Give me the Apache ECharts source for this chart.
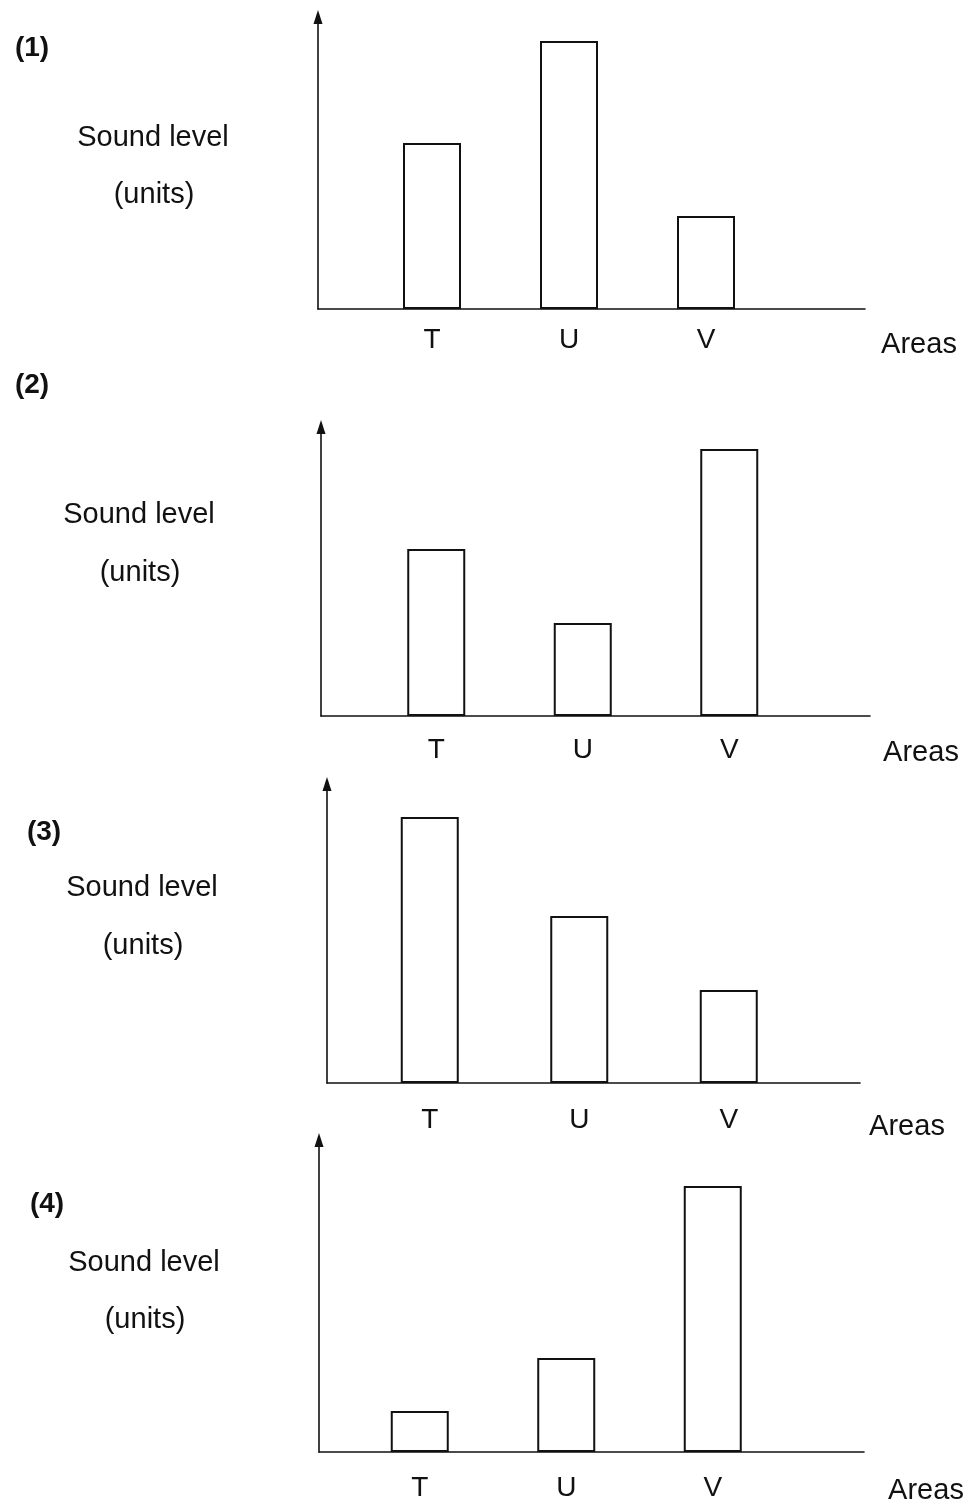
<!DOCTYPE html>
<html>
<head>
<meta charset="utf-8">
<script src="https://cdn.jsdelivr.net/npm/echarts@6/dist/echarts.min.js"></script>
<style>
html, body { margin: 0; padding: 0; background: #fff; }
#main { width: 968px; height: 1508px; }
</style>
</head>
<body>
<div id="main"></div>
<script>
var areas = ['T', 'U', 'V'];
// sound levels (1 unit = 3px of bar height)
var level1 = [55.3, 89.3, 31];
var level2 = [55.7, 31, 89];
var level3 = [88.7, 55.7, 31];
var level4 = [13.7, 31.3, 88.7];
var graphNames = ['(1)', '(2)', '(3)', '(4)'];
var yTitle = 'Sound level';
var yUnits = '(units)';
var xTitle = 'Areas';

var myChart = echarts.init(document.getElementById('main'));
var font = '"Liberation Sans", Arial, sans-serif';

// frame = the two axis lines, bars = band where T U V sit
var layout = [
    {frame: {left: 318, top: 17, width: 547, height: 292}, bars: {left: 363.5, width: 411}, margin: 17,
     num: [32, 48], sound: [153, 138], units: [154, 195], name: [919, 345]},
    {frame: {left: 321, top: 427, width: 549, height: 289}, bars: {left: 363, width: 439.5}, margin: 20,
     num: [32, 385], sound: [139, 515], units: [140, 573], name: [921, 753]},
    {frame: {left: 327, top: 784, width: 533, height: 299}, bars: {left: 355, width: 448.5}, margin: 23,
     num: [44, 832], sound: [142, 888], units: [143, 946], name: [907, 1127]},
    {frame: {left: 319, top: 1140, width: 545, height: 312}, bars: {left: 346.5, width: 439.5}, margin: 22,
     num: [47, 1204], sound: [144, 1263], units: [145, 1320], name: [926, 1491]}
];
var levels = [level1, level2, level3, level4];

var grid = [], xAxis = [], yAxis = [], series = [], graphic = [];
var lineStyle = {color: '#111', width: 1.6};

layout.forEach(function (L, i) {
    var f = 2 * i, b = 2 * i + 1;
    grid.push({left: L.frame.left, top: L.frame.top, width: L.frame.width, height: L.frame.height, outerBoundsMode: 'none'});
    grid.push({left: L.bars.left, top: L.frame.top, width: L.bars.width, height: L.frame.height, outerBoundsMode: 'none'});

    xAxis.push({
        gridIndex: f, type: 'value', min: 0, max: 1,
        axisLine: {show: true, lineStyle: lineStyle},
        axisTick: {show: false}, axisLabel: {show: false}, splitLine: {show: false}
    });
    yAxis.push({
        gridIndex: f, type: 'value', min: 0, max: 1,
        axisLine: {show: true, symbol: ['none', 'triangle'], symbolSize: [9, 14], lineStyle: lineStyle},
        axisTick: {show: false}, axisLabel: {show: false}, splitLine: {show: false}
    });
    xAxis.push({
        gridIndex: b, type: 'category', data: areas,
        axisLine: {show: false}, axisTick: {show: false}, splitLine: {show: false},
        axisLabel: {margin: L.margin, fontSize: 28, fontFamily: font, color: '#111'}
    });
    yAxis.push({
        gridIndex: b, type: 'value', min: 0, max: L.frame.height / 3,
        axisLine: {show: false}, axisTick: {show: false}, axisLabel: {show: false}, splitLine: {show: false}
    });
    series.push({
        type: 'bar', xAxisIndex: b, yAxisIndex: b, data: levels[i],
        barWidth: 58, silent: true, animation: false,
        itemStyle: {color: '#fff', borderColor: '#111', borderWidth: 2}
    });

    graphic.push({type: 'text', x: L.num[0], y: L.num[1], style: {text: graphNames[i], font: 'bold 28px ' + font, fill: '#111', textAlign: 'center', textVerticalAlign: 'middle'}});
    graphic.push({type: 'text', x: L.sound[0], y: L.sound[1], style: {text: yTitle, font: '29px ' + font, fill: '#111', textAlign: 'center', textVerticalAlign: 'middle'}});
    graphic.push({type: 'text', x: L.units[0], y: L.units[1], style: {text: yUnits, font: '29px ' + font, fill: '#111', textAlign: 'center', textVerticalAlign: 'middle'}});
    graphic.push({type: 'text', x: L.name[0], y: L.name[1], style: {text: xTitle, font: '29px ' + font, fill: '#111', textAlign: 'center', textVerticalAlign: 'middle'}});
});

option = {
    backgroundColor: '#fff',
    animation: false,
    grid: grid,
    xAxis: xAxis,
    yAxis: yAxis,
    series: series,
    graphic: graphic
};
myChart.setOption(option);
</script>
</body>
</html>
